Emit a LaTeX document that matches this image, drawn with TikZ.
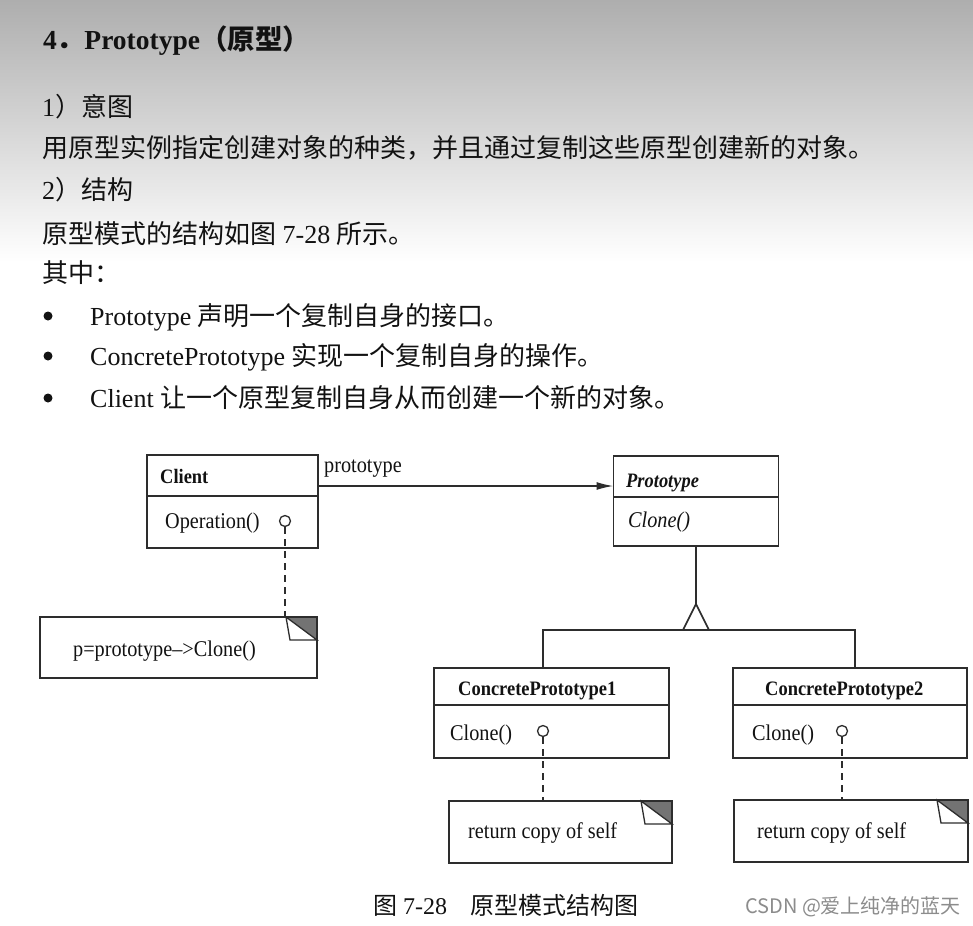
\documentclass[tikz,border=0pt]{standalone}
\usepackage{fontspec}
\setmainfont{Liberation Serif}
\newfontfamily\cjk{Noto Sans CJK SC}
\newfontfamily\wmfont{Noto Sans CJK SC}
\newfontfamily\dfont[FakeStretch=0.9]{Liberation Serif}
\usetikzlibrary{arrows.meta,calc}
\definecolor{bgtop}{RGB}{174,174,174}
\definecolor{ink}{RGB}{18,18,18}
\definecolor{linec}{RGB}{45,45,45}
\definecolor{foldgray}{RGB}{115,115,115}
\definecolor{wmcol}{RGB}{140,140,140}
\tikzset{
  txt/.style={anchor=base west, inner sep=0pt, text=ink, font=\fontsize{26}{30}\selectfont},
  titletxt/.style={anchor=base west, inner sep=0pt, text=ink, font=\bfseries\fontsize{27.5}{32}\selectfont},
  umlbox/.style={draw=linec, line width=1.6pt, fill=white, inner sep=0pt, outer sep=0pt, rectangle},
  ln/.style={draw=linec, line width=1.6pt},
  dtxt/.style={anchor=base west, inner sep=0pt, text=ink, font=\dfont\fontsize{22.5}{26}\selectfont},
  dbold/.style={anchor=base west, inner sep=0pt, text=ink, font=\dfont\bfseries\fontsize{20.5}{24}\selectfont},
  dital/.style={anchor=base west, inner sep=0pt, text=ink, font=\dfont\itshape\fontsize{22.5}{26}\selectfont},
  dbital/.style={anchor=base west, inner sep=0pt, text=ink, font=\dfont\bfseries\itshape\fontsize{20.5}{24}\selectfont},
  pin/.style={circle, draw=linec, line width=1.3pt, fill=white, minimum size=11pt, inner sep=0pt},
  dashln/.style={draw=linec, line width=1.5pt, dash pattern=on 7pt off 5pt},
  captxt/.style={anchor=base west, inner sep=0pt, text=ink, font=\fontsize{24}{28}\selectfont},
}
\newcommand\notefold[1]{%
  \fill[foldgray] (#1.north east) -- ++(-31,0) -- ++(31,23) -- cycle;
  \draw[ln, line width=1.3pt, fill=white] ($(#1.north east)+(-31,0)$) -- ++(4,23) -- ++(27,0) -- cycle;
  \draw[ln] (#1.north west) rectangle (#1.south east);
}
\begin{document}
\begin{tikzpicture}[x=1pt,y=-1pt]
\useasboundingbox (0,0) rectangle (973,925);
\fill[white] (0,0) rectangle (973,925);
\shade[top color=bgtop, bottom color=white] (0,0) rectangle (973,262);

% ---- text ----
\node[titletxt] (title) at (43,50) {4{\cjk ．}Prototype{\cjk （原型）}};
\node[txt] (l1) at (42,117) {1{\cjk ）意图}};
\node[txt] (l2) at (42,158) {\cjk 用原型实例指定创建对象的种类，并且通过复制这些原型创建新的对象。};
\node[txt] (l3) at (42,200) {2{\cjk ）结构}};
\node[txt] (l4) at (42,243) {{\cjk 原型模式的结构如图} 7-28 {\cjk 所示。}};
\node[txt] (l5) at (42,282) {\cjk 其中：};
\fill[ink] (48,316) circle (4.5);
\fill[ink] (48,356) circle (4.5);
\fill[ink] (48,398) circle (4.5);
\node[txt] (b1) at (90,325) {Prototype {\cjk 声明一个复制自身的接口。}};
\node[txt] (b2) at (90,365) {ConcretePrototype {\cjk 实现一个复制自身的操作。}};
\node[txt] (b3) at (90,407) {Client {\cjk 让一个原型复制自身从而创建一个新的对象。}};

% ---- class boxes ----
\node[umlbox, minimum width=171pt, minimum height=93pt] (client) at (232.5,501.5) {};
\draw[ln] ($(client.north west)+(0,41)$) -- ($(client.north east)+(0,41)$);
\node[dbold] (clientname) at (160,483) {Client};
\node[dtxt] (clientop) at (165,528) {Operation()};

\node[umlbox, minimum width=165pt, minimum height=90pt] (proto) at (696,501) {};
\draw[ln] ($(proto.north west)+(0,41)$) -- ($(proto.north east)+(0,41)$);
\node[dbital] (protoname) at (626,487) {Prototype};
\node[dital] (protoop) at (628,527) {Clone()};

\node[umlbox, minimum width=235pt, minimum height=90pt] (cp1) at (551.5,713) {};
\draw[ln] ($(cp1.north west)+(0,37)$) -- ($(cp1.north east)+(0,37)$);
\node[dbold] (cp1name) at (458,695) {ConcretePrototype1};
\node[dtxt] (cp1op) at (450,740) {Clone()};

\node[umlbox, minimum width=234pt, minimum height=90pt] (cp2) at (850,713) {};
\draw[ln] ($(cp2.north west)+(0,37)$) -- ($(cp2.north east)+(0,37)$);
\node[dbold] (cp2name) at (765,695) {ConcretePrototype2};
\node[dtxt] (cp2op) at (752,740) {Clone()};

% ---- notes ----
\node[umlbox, minimum width=277pt, minimum height=61pt] (note1) at (178.5,647.5) {};
\notefold{note1}
\node[dtxt] (note1t) at (73,656) {p=prototype\textendash>Clone()};

\node[umlbox, minimum width=223pt, minimum height=62pt] (note2) at (560.5,832) {};
\notefold{note2}
\node[dtxt] (note2t) at (468,838) {return copy of self};

\node[umlbox, minimum width=234pt, minimum height=62pt] (note3) at (851,831) {};
\notefold{note3}
\node[dtxt] (note3t) at (757,838) {return copy of self};

% ---- pins and dashed links ----
\node[pin] (k1) at (285,521) {};
\node[pin] (k2) at (543,731) {};
\node[pin] (k3) at (842,731) {};
\draw[dashln] (k1.south) -- (k1.south |- note1.north);
\draw[dashln] (k2.south) -- (k2.south |- note2.north);
\draw[dashln] (k3.south) -- (k3.south |- note3.north);

% ---- association ----
\coordinate (a1) at ($(client.north east)+(0,31)$);
\draw[ln, -{Latex[length=17pt,width=8pt]}] (a1) -- (a1 -| proto.west);
\node[dtxt] (assoclbl) at (324,472) {prototype};

% ---- inheritance ----
\coordinate (apex) at ($(proto.south)+(0,58)$);
\coordinate (bl) at (543,630);
\coordinate (br) at (855,630);
\draw[ln] (proto.south) -- (apex);
\draw[ln] (bl |- cp1.north) -- (bl) -- (br) -- (br |- cp2.north);
\draw[ln, fill=white, line join=miter] (apex) -- ++(-13,26) -- ++(26,0) -- cycle;

% ---- caption ----
\node[captxt] (cap1) at (373,914) {{\cjk 图} 7-28};
\node[captxt] (cap2) at (470,914) {\cjk 原型模式结构图};
\node[anchor=base west, inner sep=0pt, text=wmcol, font=\wmfont\fontsize{20}{24}\selectfont] (wm) at (745,913) {CSDN @爱上纯净的蓝天};
\end{tikzpicture}
\end{document}
